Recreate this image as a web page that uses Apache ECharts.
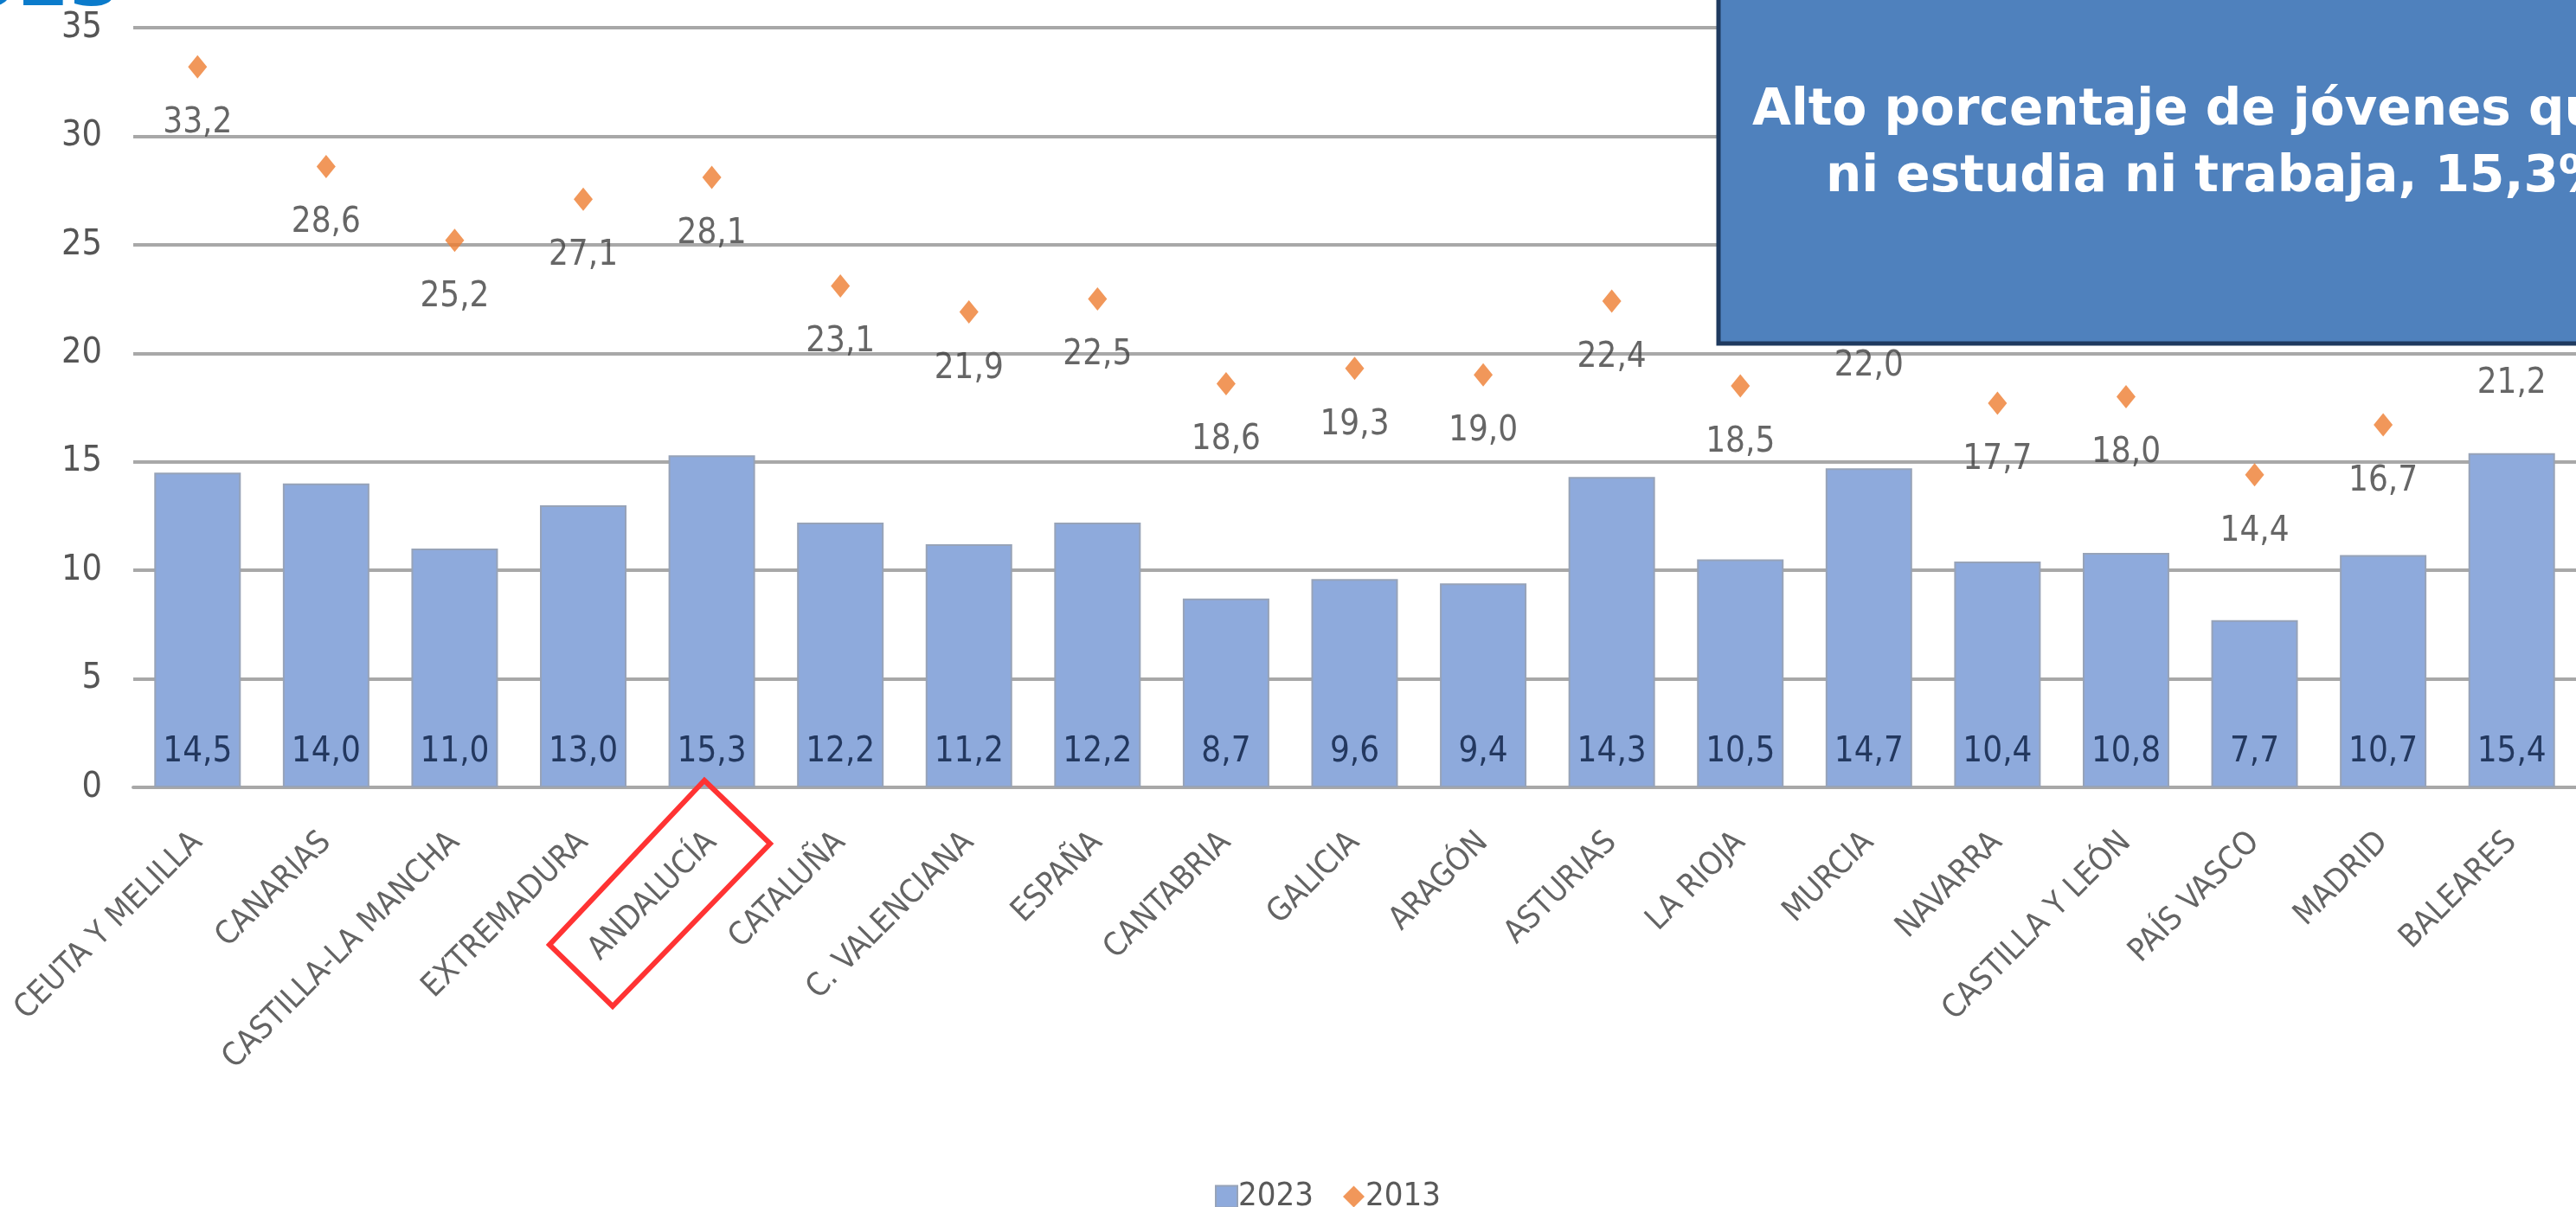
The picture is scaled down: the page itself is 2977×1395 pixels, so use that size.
<!DOCTYPE html>
<html>
<head>
<meta charset="utf-8">
<title>Jóvenes que ni estudian ni trabajan</title>
<script src="https://cdn.jsdelivr.net/npm/echarts@6/dist/echarts.min.js"></script>
<style>
  html, body { margin: 0; padding: 0; background: #ffffff; }
  #chart { width: 2977px; height: 1395px; }
</style>
</head>
<body>
<div id="chart"></div>
<script>
// regiones en el orden del original
var regiones = ['CEUTA Y MELILLA', 'CANARIAS', 'CASTILLA-LA MANCHA', 'EXTREMADURA', 'ANDALUCÍA',
  'CATALUÑA', 'C. VALENCIANA', 'ESPAÑA', 'CANTABRIA', 'GALICIA', 'ARAGÓN', 'ASTURIAS',
  'LA RIOJA', 'MURCIA', 'NAVARRA', 'CASTILLA Y LEÓN', 'PAÍS VASCO', 'MADRID', 'BALEARES']
var valores2023 = [14.5, 14.0, 11.0, 13.0, 15.3, 12.2, 11.2, 12.2, 8.7, 9.6, 9.4, 14.3, 10.5, 14.7, 10.4, 10.8, 7.7, 10.7, 15.4]
var valores2013 = [33.2, 28.6, 25.2, 27.1, 28.1, 23.1, 21.9, 22.5, 18.6, 19.3, 19.0, 22.4, 18.5, 22.0, 17.7, 18.0, 14.4, 16.7, 21.2]
var series2023 = '2023'
var series2013 = '2013'
var yTicks = [0, 5, 10, 15, 20, 25, 30, 35]

var fuente = "'Liberation Sans Narrow', 'DejaVu Sans Condensed', 'Noto Sans', sans-serif"
var fuenteTitulo = "'DejaVu Sans', 'Open Sans', sans-serif"

function coma(v) {
  return v.toFixed(1).replace('.', ',')
}

var myChart = echarts.init(document.getElementById('chart'))

var option = {
  backgroundColor: '#ffffff',
  animation: false,
  grid: {
    left: 154,
    top: 32,
    width: 2840,
    height: 878,
    containLabel: false
  },
  legend: {
    left: 1399,
    top: 1359,
    itemWidth: 25,
    itemHeight: 25,
    itemGap: 34,
    textStyle: { fontFamily: fuente, fontSize: 38, color: '#595959', padding: [0, 0, 0, -4] },
    data: [
      { name: series2023, icon: 'rect' },
      { name: series2013, icon: 'diamond' }
    ]
  },
  xAxis: {
    type: 'category',
    data: regiones,
    axisTick: { show: false },
    axisLine: { lineStyle: { color: '#a8a8a8', width: 4 } },
    axisLabel: {
      interval: 0,
      rotate: 45,
      margin: 58,
      padding: [60, 0, 0, 0],
      fontFamily: fuente,
      fontSize: 37,
      color: '#646464'
    }
  },
  yAxis: {
    type: 'value',
    min: yTicks[0],
    max: yTicks[yTicks.length - 1],
    interval: 5,
    axisLine: { show: false },
    axisTick: { show: false },
    axisLabel: {
      margin: 36,
      fontFamily: fuente,
      fontSize: 41,
      color: '#555555'
    },
    splitLine: { lineStyle: { color: '#a8a8a8', width: 4 } }
  },
  series: [
    {
      name: series2023,
      type: 'bar',
      data: valores2023,
      barWidth: 100,
      itemStyle: { color: '#8eaadc', borderColor: '#97a3b8', borderWidth: 2 },
      label: {
        show: true,
        position: 'insideBottom',
        distance: 20,
        fontFamily: fuente,
        fontSize: 40,
        color: '#23385f',
        formatter: function(p) { return coma(p.value) }
      },
      z: 2
    },
    {
      name: series2013,
      type: 'scatter',
      data: valores2013,
      symbol: 'diamond',
      symbolSize: [22, 27],
      itemStyle: { color: '#ed7d31' },
      label: {
        show: true,
        position: 'bottom',
        distance: 32,
        fontFamily: fuente,
        fontSize: 40,
        color: '#404040',
        formatter: function(p) { return coma(p.value) }
      },
      z: 3
    }
  ],
  graphic: [
    // trozo del titulo que queda cortado arriba
    {
      type: 'text',
      x: 140,
      y: -16,
      z: 50,
      style: {
        text: '2023',
        fill: '#0b7bcb',
        font: 'bold 86px ' + fuenteTitulo,
        align: 'right',
        verticalAlign: 'middle'
      }
    },
    // cuadro azul con el mensaje
    {
      type: 'rect',
      z: 100,
      shape: { x: 1986, y: -20, width: 1100, height: 417 },
      style: { fill: '#4f81bd', stroke: '#1f3a5f', lineWidth: 5 }
    },
    {
      type: 'text',
      z: 101,
      x: 2025,
      y: 129,
      style: {
        text: 'Alto porcentaje de jóvenes que',
        fill: '#ffffff',
        font: 'bold 58px ' + fuenteTitulo,
        align: 'left',
        verticalAlign: 'middle'
      }
    },
    {
      type: 'text',
      z: 101,
      x: 2110,
      y: 206,
      style: {
        text: 'ni estudia ni trabaja, 15,3%',
        fill: '#ffffff',
        font: 'bold 58px ' + fuenteTitulo,
        align: 'left',
        verticalAlign: 'middle'
      }
    },
    // marco rojo sobre ANDALUCÍA
    {
      type: 'polygon',
      z: 100,
      shape: { points: [[814, 902], [890, 975], [708, 1163], [635, 1092]] },
      style: { fill: 'none', stroke: '#ff3333', lineWidth: 6 }
    }
  ]
}

myChart.setOption(option, true)
window.addEventListener('resize', () => {
  myChart.resize()
})
</script>
</body>
</html>
